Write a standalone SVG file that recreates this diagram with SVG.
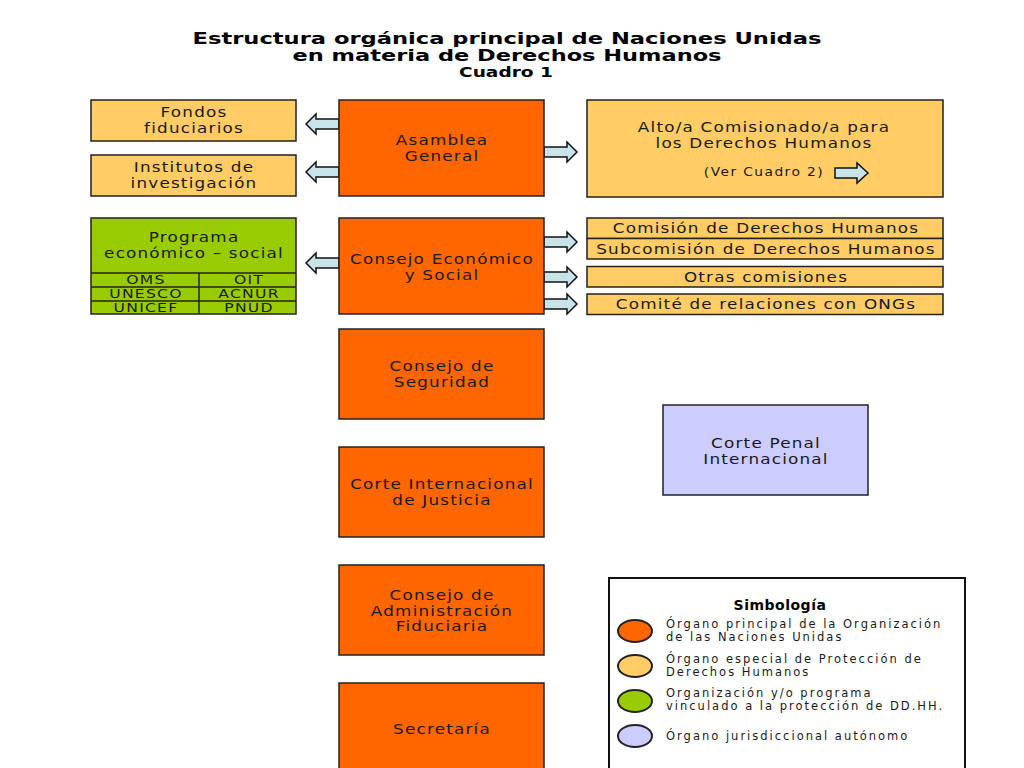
<svg xmlns="http://www.w3.org/2000/svg" xmlns:xlink="http://www.w3.org/1999/xlink" width="1024" height="768" viewBox="0 0 1024 768">
<style>
  text { font-family: "DejaVu Sans", Verdana, sans-serif; fill: #1a1a1a; text-anchor: middle; }
  .title { font-weight: bold; font-size: 16.5px; fill: #000; }
  .sub { font-weight: bold; font-size: 14px; fill: #000; }
  .t { font-size: 14px; letter-spacing: 1px; }
  .g { font-size: 12.5px; letter-spacing: 1px; }
  .s { font-size: 11.5px; letter-spacing: 1.2px; }
  .lg { font-size: 11.5px; letter-spacing: 2px; text-anchor: start; }
  .lgt { font-size: 14px; font-weight: bold; fill: #000; letter-spacing: 0.5px; }
  .box { stroke: #222; stroke-width: 1.5; }
  .main { fill: #FF6600; }
  .spec { fill: #FFCC66; }
  .prog { fill: #99CC00; }
  .jur { fill: #CCCCFF; }
  .arrow { fill: #C8E4E8; stroke: #111; stroke-width: 1.5; stroke-linejoin: miter; }
  .grid { stroke: #222; stroke-width: 1.5; fill: none; }
  .ell { stroke: #222; stroke-width: 2; }
</style>
<defs>
  <path id="arr" class="arrow" d="M0,-5 L23,-5 L23,-10 L33,0 L23,10 L23,5 L0,5 Z"/>
  <path id="arrS" class="arrow" d="M0,-5 L22,-5 L22,-10 L33,0 L22,10 L22,5 L0,5 Z"/>
</defs>
<rect width="1024" height="768" fill="#fff"/>

<g id="title">
  <text class="title" x="507" y="44" textLength="629" lengthAdjust="spacingAndGlyphs">Estructura orgánica principal de Naciones Unidas</text>
  <text class="title" x="507" y="61" textLength="429" lengthAdjust="spacingAndGlyphs">en materia de Derechos Humanos</text>
  <text class="sub" x="506" y="77" textLength="94" lengthAdjust="spacingAndGlyphs">Cuadro 1</text>
</g>

<g id="connectors">
  <use href="#arr" transform="translate(339,124) scale(-1,1)"/>
  <use href="#arr" transform="translate(339,172) scale(-1,1)"/>
  <use href="#arr" transform="translate(339,263) scale(-1,1)"/>
  <use href="#arr" transform="translate(544,152)"/>
  <use href="#arr" transform="translate(544,242)"/>
  <use href="#arr" transform="translate(544,277)"/>
  <use href="#arr" transform="translate(544,304)"/>
</g>

<g id="fondos">
  <rect class="box spec" x="91" y="100" width="205" height="41"/>
  <g transform="translate(194,0) scale(1.2,1)">
    <text class="t" x="0" y="117.5">Fondos</text>
    <text class="t" x="0" y="133">fiduciarios</text>
  </g>
</g>
<g id="institutos">
  <rect class="box spec" x="91" y="155" width="205" height="41"/>
  <g transform="translate(194,0) scale(1.2,1)">
    <text class="t" x="0" y="172.5">Institutos de</text>
    <text class="t" x="0" y="188">investigación</text>
  </g>
</g>
<g id="asamblea">
  <rect class="box main" x="339" y="100" width="205" height="96"/>
  <g transform="translate(442,0) scale(1.2,1)">
    <text class="t" x="0" y="145.5">Asamblea</text>
    <text class="t" x="0" y="161">General</text>
  </g>
</g>
<g id="alto">
  <rect class="box spec" x="587" y="100" width="356" height="97"/>
  <g transform="translate(764,0) scale(1.2,1)">
    <text class="t" x="0" y="132.5">Alto/a Comisionado/a para</text>
    <text class="t" x="0" y="148">los Derechos Humanos</text>
    <text class="s" x="0" y="176">(Ver Cuadro 2)</text>
  </g>
  <use href="#arrS" transform="translate(835,173)"/>
</g>

<g id="programa">
  <rect class="box prog" x="91" y="218" width="205" height="96"/>
  <g transform="translate(194,0) scale(1.2,1)">
    <text class="t" x="0" y="242.5">Programa</text>
    <text class="t" x="0" y="258">económico – social</text>
  </g>
  <path class="grid" d="M91,273 H296 M91,287 H296 M91,301 H296 M199,273 V314"/>
  <g transform="translate(146,0) scale(1.25,1)">
    <text class="g" x="0" y="284.5">OMS</text>
    <text class="g" x="0" y="298.5">UNESCO</text>
    <text class="g" x="0" y="312.5">UNICEF</text>
  </g>
  <g transform="translate(249,0) scale(1.25,1)">
    <text class="g" x="0" y="284.5">OIT</text>
    <text class="g" x="0" y="298.5">ACNUR</text>
    <text class="g" x="0" y="312.5">PNUD</text>
  </g>
</g>
<g id="ecosoc">
  <rect class="box main" x="339" y="218" width="205" height="96"/>
  <g transform="translate(442,0) scale(1.2,1)">
    <text class="t" x="0" y="264.5">Consejo Económico</text>
    <text class="t" x="0" y="280">y Social</text>
  </g>
</g>
<g id="comision">
  <rect class="box spec" x="587" y="218" width="356" height="20.5"/>
  <text class="t" transform="translate(766,0) scale(1.2,1)" x="0" y="233">Comisión de Derechos Humanos</text>
</g>
<g id="subcomision">
  <rect class="box spec" x="587" y="238.5" width="356" height="20.5"/>
  <text class="t" transform="translate(766,0) scale(1.2,1)" x="0" y="254">Subcomisión de Derechos Humanos</text>
</g>
<g id="otras">
  <rect class="box spec" x="587" y="266.5" width="356" height="20.5"/>
  <text class="t" transform="translate(766,0) scale(1.2,1)" x="0" y="282">Otras comisiones</text>
</g>
<g id="comite">
  <rect class="box spec" x="587" y="294" width="356" height="20.5"/>
  <text class="t" transform="translate(766,0) scale(1.2,1)" x="0" y="309.5">Comité de relaciones con ONGs</text>
</g>

<g id="seguridad">
  <rect class="box main" x="339" y="329" width="205" height="90"/>
  <g transform="translate(442,0) scale(1.2,1)">
    <text class="t" x="0" y="371.5">Consejo de</text>
    <text class="t" x="0" y="387">Seguridad</text>
  </g>
</g>
<g id="cij">
  <rect class="box main" x="339" y="447" width="205" height="90"/>
  <g transform="translate(442,0) scale(1.2,1)">
    <text class="t" x="0" y="489.5">Corte Internacional</text>
    <text class="t" x="0" y="505">de Justicia</text>
  </g>
</g>
<g id="fiduciaria">
  <rect class="box main" x="339" y="565" width="205" height="90"/>
  <g transform="translate(442,0) scale(1.2,1)">
    <text class="t" x="0" y="600.5">Consejo de</text>
    <text class="t" x="0" y="616">Administración</text>
    <text class="t" x="0" y="631.5">Fiduciaria</text>
  </g>
</g>
<g id="secretaria">
  <rect class="box main" x="339" y="683" width="205" height="95"/>
  <text class="t" transform="translate(442,0) scale(1.2,1)" x="0" y="734">Secretaría</text>
</g>
<g id="cpi">
  <rect class="box jur" x="663" y="405" width="205" height="90"/>
  <g transform="translate(766,0) scale(1.2,1)">
    <text class="t" x="0" y="448.5">Corte Penal</text>
    <text class="t" x="0" y="464">Internacional</text>
  </g>
</g>

<g id="simbologia">
  <rect x="609" y="578" width="356" height="200" fill="#fff" stroke="#111" stroke-width="2"/>
  <text class="lgt" x="780" y="610">Simbología</text>
  <ellipse class="ell main" cx="635" cy="631" rx="17" ry="11"/>
  <ellipse class="ell spec" cx="635" cy="666" rx="17" ry="11"/>
  <ellipse class="ell prog" cx="635" cy="701" rx="17" ry="11"/>
  <ellipse class="ell jur" cx="635" cy="736" rx="17" ry="11"/>
  <text class="lg" x="666" y="628">Órgano principal de la Organización</text>
  <text class="lg" x="666" y="641">de las Naciones Unidas</text>
  <text class="lg" x="666" y="663">Órgano especial de Protección de</text>
  <text class="lg" x="666" y="676">Derechos Humanos</text>
  <text class="lg" x="666" y="697">Organización y/o programa</text>
  <text class="lg" x="666" y="710">vinculado a la protección de DD.HH.</text>
  <text class="lg" x="666" y="740">Órgano jurisdiccional autónomo</text>
</g>
</svg>
